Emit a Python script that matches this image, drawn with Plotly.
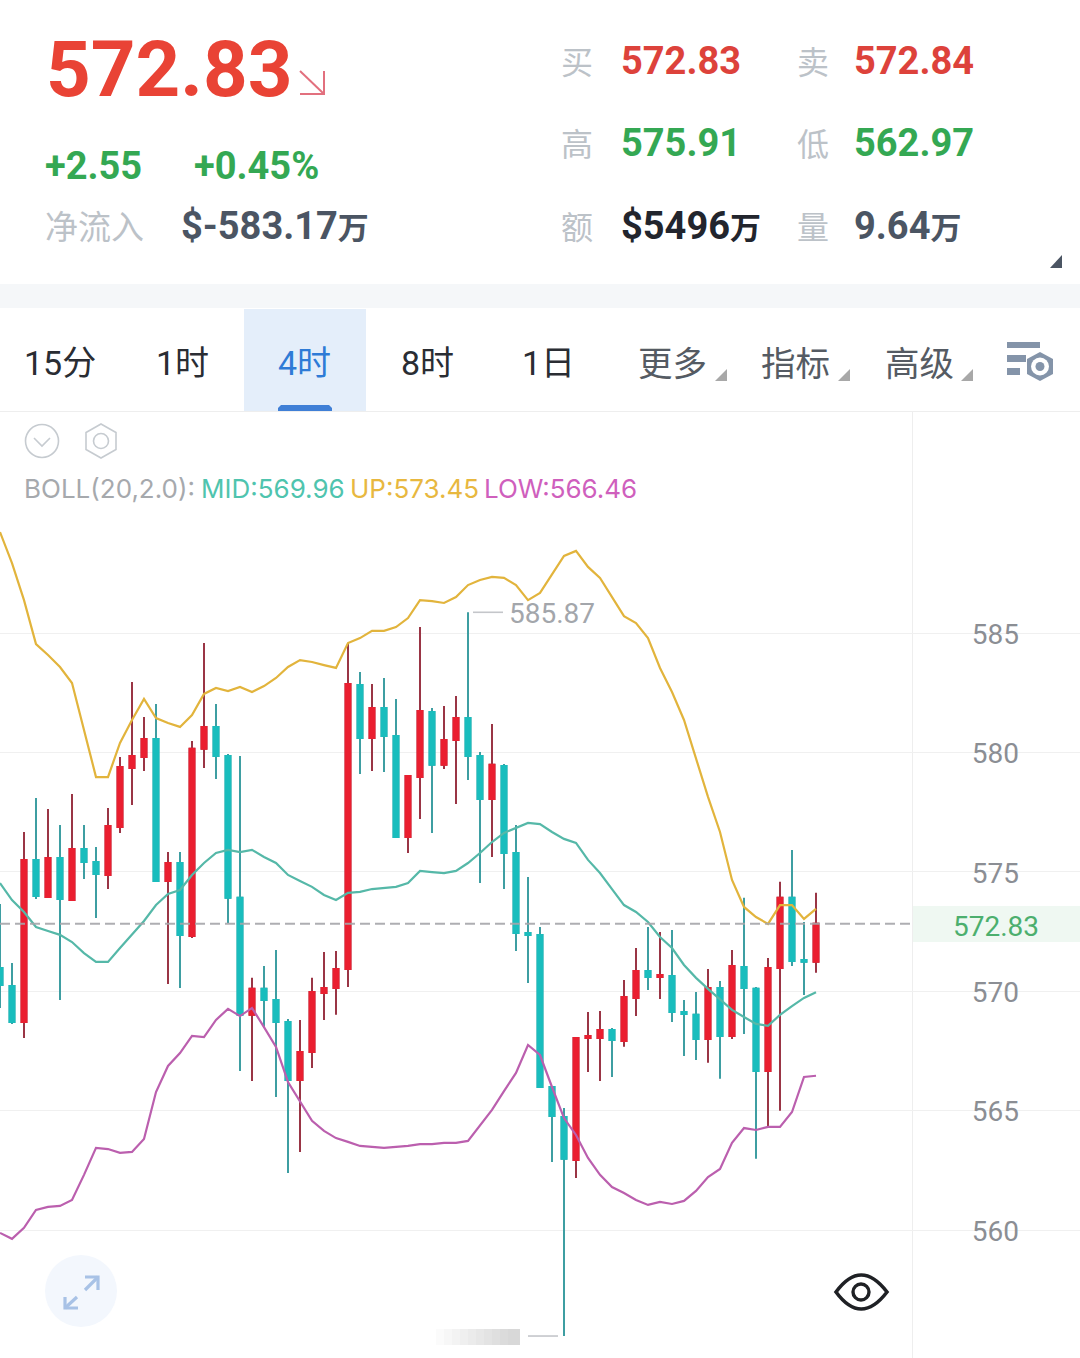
import plotly.graph_objects as go

# --- candle data, 4h bars -------------------------------------------------
bar_index = list(range(69))
open_px = [570.97, 570.22, 568.71, 575.50, 573.95, 575.58, 573.82, 575.96, 575.41, 574.87,
           576.88, 579.35, 579.81, 580.56, 574.62, 575.37, 572.31, 580.15, 581.07, 579.85,
           573.91, 569.01, 570.10, 569.63, 568.71, 566.28, 567.46, 569.93, 570.14, 570.93,
           582.82, 580.61, 581.86, 580.69, 576.46, 578.97, 581.69, 579.48, 580.52, 581.44,
           579.85, 578.05, 579.43, 575.79, 572.44, 572.36, 565.99, 564.73, 562.93, 568.04,
           568.04, 568.38, 567.92, 569.72, 570.85, 570.60, 570.64, 569.13, 569.01, 568.00,
           570.14, 568.13, 571.02, 570.10, 566.66, 570.97, 573.91, 571.31, 571.23]
high_px = [573.65, 571.18, 576.67, 578.09, 577.63, 576.96, 578.26, 576.96, 576.04, 577.67,
           579.81, 582.95, 581.49, 582.03, 575.83, 575.83, 580.48, 584.58, 582.03, 579.94,
           579.85, 570.56, 571.06, 571.73, 568.84, 568.80, 570.56, 571.64, 571.69, 584.58,
           583.37, 582.87, 583.12, 582.24, 579.06, 585.25, 581.86, 581.95, 582.36, 585.87,
           580.02, 581.19, 579.52, 576.96, 574.78, 572.69, 565.99, 565.11, 568.04, 569.13,
           569.17, 568.46, 570.47, 571.81, 572.69, 572.48, 572.56, 569.63, 569.97, 570.93,
           570.43, 571.73, 573.91, 570.18, 571.39, 574.58, 575.91, 572.90, 574.12]
low_px = [569.30, 568.63, 568.04, 573.86, 573.91, 569.63, 573.82, 574.70, 573.07, 574.28,
          576.63, 577.80, 579.22, 574.62, 570.30, 570.14, 572.23, 579.35, 578.89, 572.86,
          566.66, 566.24, 568.46, 565.57, 562.39, 563.27, 566.79, 568.80, 569.01, 570.18,
          579.10, 579.22, 579.18, 576.46, 575.79, 577.21, 576.63, 579.31, 577.84, 578.85,
          574.53, 575.62, 574.28, 571.69, 570.35, 565.99, 562.85, 555.56, 562.18, 566.62,
          566.24, 566.41, 567.67, 568.96, 570.05, 569.68, 568.71, 567.29, 567.12, 567.00,
          566.33, 568.00, 568.21, 562.98, 564.32, 564.99, 571.06, 569.84, 570.77]
close_px = [570.26, 568.71, 575.50, 573.99, 575.58, 573.86, 575.96, 575.41, 574.91, 576.92,
            579.39, 579.85, 580.56, 574.62, 575.37, 572.36, 580.15, 581.07, 579.85, 573.91,
            569.01, 570.10, 569.63, 568.71, 566.28, 567.46, 569.97, 570.14, 570.93, 582.87,
            580.61, 581.86, 580.69, 576.46, 579.01, 581.74, 579.48, 580.52, 581.44, 579.85,
            578.05, 579.48, 575.79, 572.44, 572.36, 565.99, 564.78, 562.98, 568.04, 568.13,
            568.38, 567.96, 569.76, 570.85, 570.60, 570.68, 569.13, 569.05, 568.00, 570.14,
            568.13, 571.06, 570.14, 566.66, 570.97, 573.91, 571.27, 571.23, 572.83]

# --- Bollinger bands ------------------------------------------------------
boll_up = [589.23, 587.93, 586.38, 584.54, 584.08, 583.58, 582.91, 580.94, 578.97, 578.97,
           580.40, 581.36, 582.24, 581.44, 581.23, 581.07, 581.57, 582.45, 582.70, 582.57,
           582.74, 582.53, 582.78, 583.12, 583.58, 583.87, 583.79, 583.66, 583.54, 584.58,
           584.79, 585.09, 585.09, 585.25, 585.63, 586.38, 586.34, 586.26, 586.51, 587.01,
           587.22, 587.35, 587.31, 587.01, 586.38, 586.68, 587.43, 588.23, 588.44, 587.77,
           587.31, 586.51, 585.71, 585.42, 584.79, 583.54, 582.53, 581.36, 579.77, 578.14,
           576.67, 574.66, 573.53, 573.11, 572.82, 573.61, 573.61, 573.03, 573.45]
boll_mid = [574.53, 573.82, 573.32, 572.69, 572.52, 572.36, 572.06, 571.60, 571.23, 571.23,
            571.81, 572.36, 572.94, 573.61, 574.07, 574.24, 574.87, 575.37, 575.79, 575.92,
            575.83, 575.92, 575.62, 575.37, 574.87, 574.62, 574.37, 574.03, 573.82, 574.12,
            574.16, 574.28, 574.32, 574.37, 574.53, 575.04, 574.99, 574.95, 575.04, 575.37,
            575.79, 576.25, 576.63, 576.84, 577.05, 577.00, 576.67, 576.38, 576.21, 575.50,
            574.95, 574.28, 573.61, 573.32, 572.90, 572.27, 571.81, 571.10, 570.56, 570.10,
            569.68, 569.22, 568.92, 568.63, 568.55, 569.01, 569.38, 569.72, 569.96]
boll_low = [559.88, 559.63, 560.09, 560.84, 560.97, 561.01, 561.26, 562.31, 563.44, 563.39,
            563.23, 563.27, 563.81, 565.78, 566.87, 567.41, 568.13, 568.08, 568.80, 569.26,
            568.96, 569.30, 568.50, 567.67, 566.20, 565.36, 564.57, 564.15, 563.85, 563.69,
            563.52, 563.48, 563.44, 563.48, 563.52, 563.60, 563.60, 563.65, 563.65, 563.73,
            564.36, 565.03, 565.82, 566.58, 567.75, 567.33, 565.99, 564.69, 563.98, 563.02,
            562.31, 561.80, 561.55, 561.26, 561.05, 561.18, 561.09, 561.22, 561.64, 562.22,
            562.56, 563.65, 564.27, 564.19, 564.32, 564.32, 564.94, 566.41, 566.46]

price_ticks = [560, 565, 570, 575, 580, 585]
last_price = 572.83
period_high = 585.87
period_low = 555.56

timeframes = ["15分", "1时", "4时", "8时", "1日"]
menus = ["更多", "指标", "高级"]

WIDTH, HEIGHT = 1080, 1358
RED, TEAL = "#EA1F30", "#19BDBD"
RED_WICK, TEAL_WICK = "#9A3545", "#3E9EA2"
LATIN = "Roboto, 'Noto Sans CJK SC'"
CJK = "'Noto Sans CJK SC', Roboto"
LEGEND_FONT = "Inter, Roboto"
GREEN = "#34A853"
SOFT = "#BCC2C8"


def fx(x):
    return x / WIDTH


def fy(y):
    return 1 - y / HEIGHT


def poly(points, close=True):
    body = " L".join(f"{fx(x):.5f},{fy(y):.5f}" for x, y in points)
    return "M" + body + (" Z" if close else "")


shapes = []
annotations = []


def box(x0, y0, x1, y1, color, layer="above"):
    shapes.append(dict(type="rect", xref="paper", yref="paper", x0=fx(x0), x1=fx(x1),
                       y0=fy(y1), y1=fy(y0), fillcolor=color, line_width=0, layer=layer))


def ring(cx, cy, r, fill=None, stroke=None, width=0, layer="above"):
    shapes.append(dict(type="circle", xref="paper", yref="paper", x0=fx(cx - r), x1=fx(cx + r),
                       y0=fy(cy + r), y1=fy(cy - r), fillcolor=fill or "rgba(0,0,0,0)",
                       line=dict(color=stroke or "rgba(0,0,0,0)", width=width), layer=layer))


def outline(points, stroke, width, close=False, fill=None):
    shapes.append(dict(type="path", xref="paper", yref="paper", path=poly(points, close),
                       fillcolor=fill or "rgba(0,0,0,0)",
                       line=dict(color=stroke, width=width), layer="above"))


def label(x, y, text, size, color, weight=400, family=LATIN, anchor="left"):
    annotations.append(dict(xref="paper", yref="paper", x=fx(x), y=fy(y), text=text, showarrow=False,
                            xanchor=anchor, yanchor="middle", borderpad=0, borderwidth=0,
                            font=dict(size=size, color=color, family=family, weight=weight)))


def wan(amount):
    return f'{amount}<span style="font-size:31px">万</span>'


# --- quote header ---------------------------------------------------------
label(46, 69, "572.83", 78, "#E94335", 700)
outline([(300, 71), (324, 94)], "#E2707E", 2)
outline([(324, 71), (324, 94), (300, 94)], "#E2707E", 2)
label(45, 166, "+2.55", 38, GREEN, 700)
label(194, 166, "+0.45%", 38, GREEN, 700)
label(45, 225, "净流入", 33, SOFT, 400, CJK)
label(181, 226, wan("$-583.17"), 38, "#4B5563", 700)

for x, y, word in [(561, 60, "买"), (797, 60, "卖"), (561, 142, "高"), (797, 142, "低"),
                   (561, 225, "额"), (797, 225, "量")]:
    label(x, y, word, 32, SOFT, 400, CJK)
label(621, 61, "572.83", 38, "#DD423B", 700)
label(854, 61, "572.84", 38, "#DD423B", 700)
label(621, 143, "575.91", 38, GREEN, 700)
label(854, 143, "562.97", 38, GREEN, 700)
label(621, 226, wan("$5496"), 38, "#22252D", 700)
label(854, 226, wan("9.64"), 38, "#4B5563", 700)
outline([(1050, 268), (1062, 268), (1062, 255)], "#4B5563", 0, True, "#4B5563")

box(0, 284, WIDTH, 308, "#F5F7F9")

# --- timeframe tabs -------------------------------------------------------
box(244, 309, 366, 411, "#E4EEFA")
outline([(278, 411), (278, 408), (281, 405), (329, 405), (332, 408), (332, 411)], "#3F7FD6", 0, True, "#3F7FD6")
for centre, word in zip([60, 182, 304, 427, 548], timeframes):
    label(centre, 363, word, 34, "#2E7BD6" if word == "4时" else "#2A2D33", 400, LATIN, "center")
for centre, word in zip([672, 795, 919], menus):
    label(centre, 361, word, 34.5, "#555B63", 400, CJK, "center")
for corner in [727, 850, 973]:
    outline([(corner - 12, 381), (corner, 381), (corner, 369)], "#A8A8A8", 0, True, "#A8A8A8")

box(1007, 342, 1040, 348, "#8494A9")
box(1007, 355, 1026, 362, "#8494A9")
box(1007, 368, 1020, 375, "#8494A9")
outline([(1040, 352), (1053, 359), (1053, 374), (1040, 381), (1027, 374), (1027, 359)],
        "#8494A9", 0, True, "#8494A9")
ring(1040, 366.5, 9, "#FFFFFF")
ring(1040, 366.5, 4.5, "#8494A9")

box(0, 411, WIDTH, 412, "#EEEEEE")

# --- indicator toolbar and legend ----------------------------------------
ring(42, 441, 16.5, None, "#C6CBD0", 1.6)
outline([(34, 438), (42, 446), (50, 438)], "#C6CBD0", 1.6)
outline([(101, 424), (116, 432.5), (116, 449.5), (101, 458), (86, 449.5), (86, 432.5)], "#C6CBD0", 1.6, True)
ring(101, 441, 7.5, None, "#C6CBD0", 1.6)
label(24, 488, "BOLL(20,2.0):", 26, "#A6A9AD", 400, LEGEND_FONT)
label(201, 488, "MID:569.96", 26, "#4FC4AE", 400, LEGEND_FONT)
label(350, 488, "UP:573.45", 26, "#E8B83F", 400, LEGEND_FONT)
label(484, 488, "LOW:566.46", 26, "#CF5FBD", 400, LEGEND_FONT)

# --- price column: hides the grid behind the labels -----------------------
box(924, 412, 1068, HEIGHT, "#FFFFFF", "below")
box(912, 412, 913, HEIGHT, "#EEEEEE", "below")
box(913, 906, WIDTH, 942, "#EFF8F2", "below")
label(996, 926, f"{last_price:.2f}", 28, "#4CAF6E", 400, LATIN, "center")

# last price line
shapes.append(dict(type="line", xref="paper", yref="y", x0=0, x1=fx(912), y0=last_price, y1=last_price,
                   line=dict(color="rgba(165,165,170,0.9)", width=2, dash="10px,5px"), layer="above"))

# high and low callouts
shapes.append(dict(type="line", xref="paper", yref="y", x0=fx(473), x1=fx(503), y0=period_high, y1=period_high,
                   line=dict(color="#C4C6CA", width=1.6), layer="above"))
shapes.append(dict(type="line", xref="paper", yref="y", x0=fx(528), x1=fx(558), y0=period_low, y1=period_low,
                   line=dict(color="#C4C6CA", width=1.6), layer="above"))
annotations.append(dict(xref="paper", yref="y", x=fx(508), y=period_high, text=f"{period_high:.2f}",
                        showarrow=False, xanchor="left", yanchor="middle", borderpad=0, yshift=-1,
                        font=dict(size=28, color="#A3A6AB", family=LATIN)))
for step in range(10):
    box(436 + step * 8, 1329, 520, 1345, "rgba(120,120,120,0.028)")

# --- floating buttons -----------------------------------------------------
ring(81, 1291, 36, "#F3F7FD")
outline([(85, 1277), (98, 1277), (98, 1290)], "#A8C2E6", 3.2)
outline([(85, 1290), (98, 1277)], "#A8C2E6", 3.2)
outline([(65, 1297), (65, 1308), (78, 1308)], "#A8C2E6", 3.2)
outline([(65, 1308), (77, 1297)], "#A8C2E6", 3.2)
shapes.append(dict(type="path", xref="paper", yref="paper",
                   path=(f"M{fx(836):.5f},{fy(1292):.5f} Q{fx(861):.5f},{fy(1258):.5f} {fx(887):.5f},{fy(1292):.5f} "
                         f"Q{fx(861):.5f},{fy(1326):.5f} {fx(836):.5f},{fy(1292):.5f} Z"),
                   fillcolor="rgba(0,0,0,0)", line=dict(color="#1F2125", width=3.6), layer="above"))
ring(861, 1292, 8, None, "#1F2125", 3.4)

# --- traces ---------------------------------------------------------------
fig = go.Figure()
fig.add_trace(go.Candlestick(
    x=bar_index, open=open_px, high=high_px, low=low_px, close=close_px, whiskerwidth=0,
    increasing=dict(line=dict(color=RED_WICK, width=2), fillcolor=RED),
    decreasing=dict(line=dict(color=TEAL_WICK, width=2), fillcolor=TEAL),
    hoverinfo="skip", showlegend=False))
# bright bodies on top so the darker wick colour only shows outside the body
body_top = [max(a, b) for a, b in zip(open_px, close_px)]
body_bottom = [min(a, b) for a, b in zip(open_px, close_px)]
fig.add_trace(go.Candlestick(
    x=bar_index, open=open_px, high=body_top, low=body_bottom, close=close_px, whiskerwidth=0,
    increasing=dict(line=dict(color=RED, width=2), fillcolor=RED),
    decreasing=dict(line=dict(color=TEAL, width=2), fillcolor=TEAL),
    hoverinfo="skip", showlegend=False))
for series, colour in [(boll_up, "#E2B43C"), (boll_mid, "#55B8A8"), (boll_low, "#BB5FAE")]:
    fig.add_trace(go.Scatter(x=bar_index, y=series, mode="lines", hoverinfo="skip", showlegend=False,
                             line=dict(color=colour, width=2.2)))

fig.update_layout(
    width=WIDTH, height=HEIGHT, autosize=False,
    margin=dict(l=0, r=0, t=0, b=0, pad=0),
    paper_bgcolor="#FFFFFF", plot_bgcolor="#FFFFFF",
    boxmode="overlay", boxgap=0.42,
    shapes=shapes, annotations=annotations,
    xaxis=dict(domain=[0, 1], range=[0, WIDTH / 12], visible=False, rangeslider=dict(visible=False),
               showgrid=False, zeroline=False, fixedrange=True),
    yaxis=dict(domain=[0, 1 - 411 / HEIGHT], range=[554.64, 594.30], side="right",
               tickmode="array", tickvals=price_ticks, ticklabelposition="inside",
               ticklabelstandoff=58, ticklabelshift=1, ticks="", showline=False, zeroline=False,
               gridcolor="#F0F0F0", gridwidth=1, fixedrange=True,
               tickfont=dict(size=28, color="#8B8E94", family=LATIN)),
)

fig.write_html("out.html", config=dict(displayModeBar=False))
